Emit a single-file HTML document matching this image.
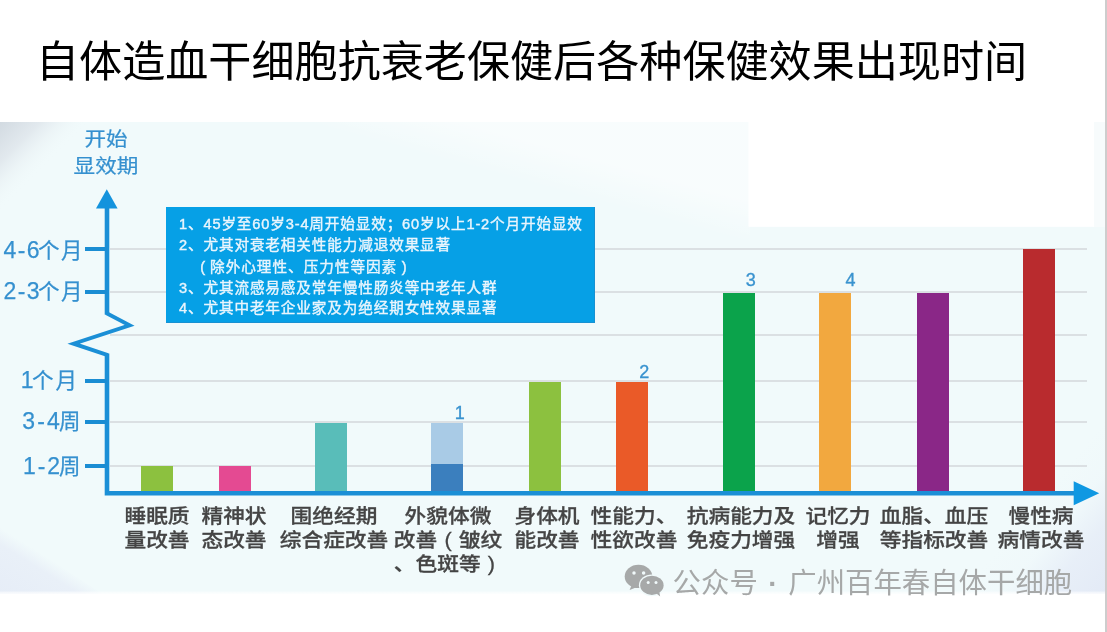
<!DOCTYPE html>
<html lang="zh-CN">
<head>
<meta charset="utf-8">
<title>自体造血干细胞抗衰老保健后各种保健效果出现时间</title>
<style>
html,body{margin:0;padding:0;background:#fff;}
body{width:1107px;height:632px;position:relative;overflow:hidden;font-family:"Liberation Sans","Noto Sans CJK SC",sans-serif;}
.abs{position:absolute;}
#title{left:36px;top:32px;font-size:43.1px;line-height:60px;color:#000;white-space:nowrap;letter-spacing:0;}
#chart{left:0;top:122px;width:1105px;height:471.8px;background:#f1fafb;overflow:hidden;}
#layer{left:0;top:0;width:1105px;height:471px;filter:blur(0.45px);}
#edge{left:1105.4px;top:0;width:1.6px;height:632px;background:#cdcdcd;}
.grid{position:absolute;left:110px;width:977px;height:1.6px;background:#dbe0e3;margin-top:0.2px;}
.bar{position:absolute;width:32px;}
.ylab{position:absolute;color:#3590cf;font-size:21.5px;line-height:24px;white-space:nowrap;text-align:right;width:80px;left:2px;letter-spacing:1.5px;-webkit-text-stroke:0.25px #3590cf;}
.ylab b{font-weight:normal;font-size:23px;letter-spacing:1.4px;margin-right:-3px;}
.tick{position:absolute;left:85px;width:22px;height:4px;background:#1b8dd3;}
.xlab{position:absolute;color:#454545;-webkit-text-stroke:0.28px #424242;font-size:21.7px;line-height:26.4px;white-space:nowrap;text-align:center;width:200px;top:382.5px;font-weight:500;transform:scaleY(0.91);transform-origin:50% 0;}
.xlab i{font-style:normal;margin:0 7.2px;}
.num{position:absolute;color:#3a93cf;font-size:18px;line-height:18px;width:20px;text-align:center;-webkit-text-stroke:0.35px #3a93cf;margin-top:0.9px;}
#note{left:166px;top:84.5px;width:427.5px;height:115px;background:#06a0e6;border-right:1.5px solid #1891d2;border-bottom:1.5px solid #1891d2;color:#e9f5fd;font-size:14.6px;line-height:21px;white-space:nowrap;font-weight:400;-webkit-text-stroke:0.4px #e9f5fd;letter-spacing:0.88px;}
#note div{position:absolute;left:13px;}
#wm{left:672.6px;top:567.8px;font-size:28.4px;line-height:30px;color:#a6a8a8;white-space:nowrap;}
</style>
</head>
<body>
<div id="title" class="abs">自体造血干细胞抗衰老保健后各种保健效果出现时间</div>
<div id="chart" class="abs">
  <svg class="abs" style="left:0;top:0" width="1105" height="473" viewBox="0 0 1105 473">
    <defs>
      <linearGradient id="gtl" gradientUnits="userSpaceOnUse" x1="0" y1="0" x2="45" y2="45">
        <stop offset="0" stop-color="#d2dae1"/>
        <stop offset="0.45" stop-color="#e2e9ee"/>
        <stop offset="1" stop-color="#f1fafb" stop-opacity="0"/>
      </linearGradient>
      <linearGradient id="gbl" gradientUnits="userSpaceOnUse" x1="50" y1="437" x2="20" y2="485">
        <stop offset="0" stop-color="#f1fafb"/>
        <stop offset="0.25" stop-color="#e9f0f8"/>
        <stop offset="1" stop-color="#e6edf7"/>
      </linearGradient>
      <linearGradient id="gbr" gradientUnits="userSpaceOnUse" x1="1020" y1="400" x2="1105" y2="471">
        <stop offset="0" stop-color="#e5ecf7" stop-opacity="0"/>
        <stop offset="0.3" stop-color="#e5ecf7" stop-opacity="0.1"/>
        <stop offset="0.6" stop-color="#e5ecf7" stop-opacity="0.8"/>
        <stop offset="1" stop-color="#e3eaf6" stop-opacity="1"/>
      </linearGradient>
      <linearGradient id="gtop" gradientUnits="userSpaceOnUse" x1="473" y1="46.5" x2="483.5" y2="7.9">
        <stop offset="0" stop-color="#ffffff" stop-opacity="0"/>
        <stop offset="1" stop-color="#ffffff" stop-opacity="0.5"/>
      </linearGradient>
      <linearGradient id="gbot" x1="0" y1="0" x2="0" y2="1">
        <stop offset="0" stop-color="#ffffff" stop-opacity="0"/>
        <stop offset="1" stop-color="#ffffff" stop-opacity="1"/>
      </linearGradient>
    </defs>
    <rect x="0" y="0" width="90" height="90" fill="url(#gtl)"/>
    <polygon points="0,404 0,473 104,473" fill="url(#gbl)"/>
    <rect x="950" y="290" width="155" height="183" fill="url(#gbr)"/>
    <rect x="290" y="0" width="460" height="125" fill="url(#gtop)"/>
    <rect x="1093" y="0" width="12" height="105" fill="#f7fbfc"/>
    <rect x="748.5" y="0" width="345.5" height="104.8" fill="#ffffff"/>
    <rect x="0" y="468.8" width="1105" height="3" fill="url(#gbot)"/>
  </svg>

  <div id="layer" class="abs">
  <div class="grid" style="top:126px"></div>
  <div class="grid" style="top:169px"></div>
  <div class="grid" style="top:212px"></div>
  <div class="grid" style="top:258px"></div>
  <div class="grid" style="top:299px"></div>
  <div class="grid" style="top:343px"></div>

  <div class="bar" style="left:141px;top:344px;height:26px;background:#8cc13f"></div>
  <div class="bar" style="left:219px;top:344px;height:26px;background:#e44a92"></div>
  <div class="bar" style="left:315px;top:301px;height:69px;background:#59bdb9"></div>
  <div class="bar" style="left:431px;top:301px;height:42px;background:#a9cbe6"></div>
  <div class="bar" style="left:431px;top:342px;height:28px;background:#3b7fbe"></div>
  <div class="bar" style="left:529px;top:260px;height:110px;background:#8cc13f"></div>
  <div class="bar" style="left:616px;top:260px;height:110px;background:#ea5a28"></div>
  <div class="bar" style="left:723px;top:171px;height:199px;background:#0ba34b"></div>
  <div class="bar" style="left:819px;top:171px;height:199px;background:#f2a83f"></div>
  <div class="bar" style="left:917px;top:171px;height:199px;background:#8a2787"></div>
  <div class="bar" style="left:1023px;top:127px;height:243px;background:#b92b2e"></div>

  <div class="num" style="left:449.7px;top:281px">1</div>
  <div class="num" style="left:634.3px;top:240px">2</div>
  <div class="num" style="left:740.8px;top:147.8px">3</div>
  <div class="num" style="left:840.5px;top:147.8px">4</div>

  <svg class="abs" style="left:0;top:0" width="1105" height="471" viewBox="0 0 1105 471">
    <g fill="none" stroke="#1b8fd6" stroke-width="4.6" stroke-linejoin="miter" stroke-miterlimit="10">
      <polyline points="107,84 107,192.6"/>
      <polyline points="107,231.4 107,371.3 1078,371.3"/>
      <polyline points="106.2,191 129.6,203.3 73.6,221.7 107.8,233.2" stroke-width="3.9"/>
    </g>
    <polygon points="106.8,67.3 96,86.4 117.6,86.4" fill="#1493dd"/>
    <polygon points="1099.2,371.2 1073.7,359.2 1073.7,383.2" fill="#0f98e2"/>
  </svg>

  <div class="tick" style="top:125px"></div>
  <div class="tick" style="top:168px"></div>
  <div class="tick" style="top:257px"></div>
  <div class="tick" style="top:298px"></div>
  <div class="tick" style="top:342px"></div>

  <div class="ylab" style="top:115.8px;left:3.5px"><b>4-6</b>个月</div>
  <div class="ylab" style="top:157.4px;left:3.5px"><b>2-3</b>个月</div>
  <div class="ylab" style="top:245.9px;left:-1px;letter-spacing:2px"><b>1</b>个月</div>
  <div class="ylab" style="top:287.4px;left:2px"><b style="letter-spacing:2.2px">3-4</b>周</div>
  <div class="ylab" style="top:332px;left:2px"><b style="letter-spacing:1.9px">1-2</b>周</div>

  <div class="ylab" style="left:6px;width:200px;text-align:center;top:1px;font-size:21.6px;line-height:30px;letter-spacing:0;transform:scaleY(0.9)">开始<br>显效期</div>

  <div id="note" class="abs">
    <div style="top:7.5px;letter-spacing:0.86px">1、45岁至60岁3-4周开始显效；60岁以上1-2个月开始显效</div>
    <div style="top:28.5px">2、尤其对衰老相关性能力减退效果显著</div>
    <div style="top:50.5px;left:34.2px;letter-spacing:1px"><span style="margin-right:4px">(</span>除外心理性、压力性等因素<span style="margin-left:4.5px">)</span></div>
    <div style="top:71px">3、尤其流感易感及常年慢性肠炎等中老年人群</div>
    <div style="top:91px">4、尤其中老年企业家及为绝经期女性效果显著</div>
  </div>

  <div class="xlab" style="left:57px">睡眠质<br>量改善</div>
  <div class="xlab" style="left:134px">精神状<br>态改善</div>
  <div class="xlab" style="left:234px">围绝经期<br>综合症改善</div>
  <div class="xlab" style="left:348px">外貌体微<br>改善<i>(</i>皱纹<br>、色斑等<i>)</i></div>
  <div class="xlab" style="left:447px">身体机<br>能改善</div>
  <div class="xlab" style="left:534px">性能力、<br>性欲改善</div>
  <div class="xlab" style="left:641px">抗病能力及<br>免疫力增强</div>
  <div class="xlab" style="left:738px">记忆力<br>增强</div>
  <div class="xlab" style="left:834px">血脂、血压<br>等指标改善</div>
  <div class="xlab" style="left:941px">慢性病<br>病情改善</div>

  </div>
</div>
<svg class="abs" style="left:620px;top:560px" width="50" height="40" viewBox="620 560 50 40">
  <g fill="#a7a9a9">
    <ellipse cx="638.5" cy="576.4" rx="13.8" ry="11.7"/>
    <polygon points="631.5,585.5 629.6,590 636.5,587.3"/>
  </g>
  <ellipse cx="651.9" cy="585.3" rx="13" ry="10.9" fill="#f1fafb"/>
  <g fill="#a7a9a9">
    <ellipse cx="651.9" cy="585.3" rx="11.7" ry="9.6"/>
    <polygon points="656.5,593.6 660.2,596.4 659.3,592"/>
  </g>
  <g fill="#f1fafb">
    <circle cx="634" cy="573" r="1.75"/><circle cx="643.6" cy="573" r="1.75"/>
    <circle cx="648.2" cy="582.5" r="1.5"/><circle cx="656" cy="582.5" r="1.5"/>
  </g>
</svg>
<div id="wm" class="abs">公众号<span style="margin:0 10.5px;font-weight:bold">·</span>广州百年春自体干细胞</div>
<div id="edge" class="abs"></div>
</body>
</html>
